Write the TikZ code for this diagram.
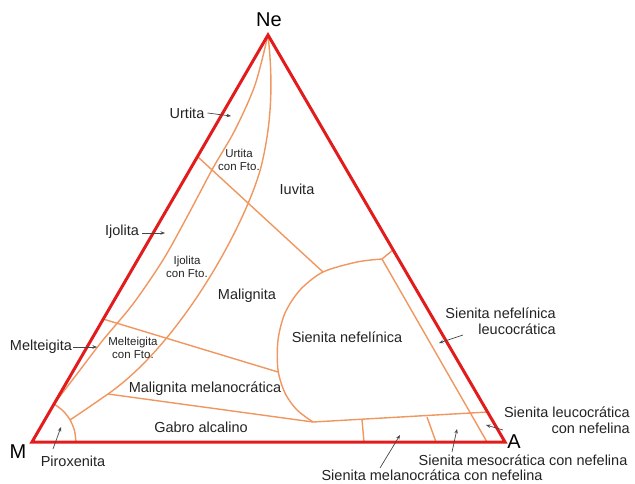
\documentclass[tikz,border=0pt]{standalone}
\usepackage{fontspec}
\setmainfont{Liberation Sans}
\usetikzlibrary{arrows.meta}
\definecolor{tri}{RGB}{226,28,28}
\definecolor{bnd}{RGB}{240,150,95}
\definecolor{txt}{RGB}{35,35,35}
\definecolor{arr}{RGB}{70,70,70}
\begin{document}
\begin{tikzpicture}[x=1pt,y=-1pt,
  triedge/.style={draw=tri,line width=3pt,line join=miter},
  bline/.style={draw=bnd,line width=1.4pt,line join=round},
  lbl/.style={text=txt,font=\fontsize{14.5}{16}\selectfont,inner sep=1pt},
  lbltwo/.style={text=txt,font=\fontsize{14.5}{15.5}\selectfont,inner sep=1pt,align=right},
  smalllbl/.style={text=txt,font=\fontsize{11.5}{12.5}\selectfont,align=center,inner sep=0pt},
  vtx/.style={text=black,font=\fontsize{20}{22}\selectfont,inner sep=0pt},
  ptr/.style={draw=arr,line width=0.7pt,-{Stealth[length=4.5pt,width=3.5pt]}}]
\useasboundingbox (0,0) rectangle (635,483);

% vertices
\coordinate (Ne) at (268,35);
\coordinate (M) at (32,442);
\coordinate (A) at (505,442);

% junctions
\coordinate (l1a) at (198,157);
\coordinate (l1b) at (323,272);
\coordinate (l2a) at (103,319);
\coordinate (l2b) at (278,372);
\coordinate (j3) at (108,394);
\coordinate (bB) at (262,163);
\coordinate (pirB) at (70,420);
\coordinate (sbot) at (313,422);
\coordinate (stop) at (382,259);
\coordinate (sedge) at (393,250);
\coordinate (leuB) at (487,442);
\coordinate (bR) at (488,412);
\coordinate (t1a) at (362,420);
\coordinate (t1b) at (364,442);
\coordinate (t2a) at (427,417);
\coordinate (t2b) at (436,442);

% boundaries
\draw[bline] plot[smooth] coordinates {(268,35) (255,85) (235,130) (213,168) (187,217) (163,260) (133,304) (103,340) (80,370) (54,404)};
\draw[bline] (Ne) .. controls (273,80) and (272,120) .. (bB)
  .. controls (250,215) and (185,340) .. (j3)
  .. controls (95,403) and (82,412) .. (pirB);
\draw[bline] plot[smooth] coordinates {(76,442) (74.5,430.6) (70.1,420) (63.1,410.9) (54,403.9)};
\draw[bline] (l1a) -- (l1b);
\draw[bline] (l2a) -- (l2b);
\draw[bline] (j3) -- (sbot);
\draw[bline] plot[smooth] coordinates {(382,259) (357,262) (323,272) (300,290) (285,313) (278,340) (278,370) (285,393) (297,410) (313,422)};
\draw[bline] (stop) -- (sedge);
\draw[bline] (stop) -- (leuB);
\draw[bline] (sbot) -- (bR);
\draw[bline] (t1a) -- (t1b);
\draw[bline] (t2a) -- (t2b);

% triangle
\draw[triedge] (Ne) -- (A) -- (M) -- cycle;

% vertex labels
\node[vtx] (ne) at (269,20) {Ne};
\node[vtx] (m) at (18,452) {M};
\node[vtx] (a) at (514,442) {A};

% field labels
\node[lbl] (urt) at (187,113) {Urtita};
\coordinate (urtP) at (231,116);
\draw[ptr] (urt.east) ++(2,0) -- (urtP);
\node[smalllbl] (urtf) at (239,160) {Urtita\\con Fto.};
\node[lbl] (iuv) at (297,189) {Iuvita};
\node[lbl] (ijo) at (122,232) {Ijolita};
\coordinate (ijoP) at (165,233);
\draw[ptr] (ijo.east) ++(2,1) -- (ijoP);
\node[smalllbl] (ijof) at (187,267) {Ijolita\\con Fto.};
\node[lbl] (mal) at (247,296) {Malignita};
\node[lbl] (mel) at (41,347) {Melteigita};
\coordinate (melP) at (97,347);
\draw[ptr] (mel.east) -- (melP);
\node[smalllbl] (melf) at (133,348) {Melteigita\\con Fto.};
\node[lbl] (malm) at (205,389) {Malignita melanocrática};
\node[lbl] (gab) at (201,427) {Gabro alcalino};
\node[lbl] (pir) at (73,461) {Piroxenita};
\coordinate (pirS) at (53,449);
\coordinate (pirP) at (61,427);
\draw[ptr] (pirS) -- (pirP);
\node[lbl] (sn) at (347,337) {Sienita nefelínica};
\node[lbltwo,anchor=east] (snl) at (557,321) {Sienita nefelínica\\leucocrática};
\coordinate (snlS) at (463,335);
\coordinate (snlP) at (439,343);
\draw[ptr] (snlS) -- (snlP);
\node[lbltwo,anchor=east] (slc) at (631,420) {Sienita leucocrática\\con nefelina};
\coordinate (slcS) at (503,430);
\coordinate (slcP) at (486,425);
\draw[ptr] (slcS) -- (slcP);
\node[lbl] (smc) at (523,460) {Sienita mesocrática con nefelina};
\coordinate (smcS) at (452,452);
\coordinate (smcP) at (457,429);
\draw[ptr] (smcS) -- (smcP);
\node[lbl] (smlc) at (432,475) {Sienita melanocrática con nefelina};
\coordinate (smlcS) at (380,468);
\coordinate (smlcP) at (400,435);
\draw[ptr] (smlcS) -- (smlcP);
\end{tikzpicture}
\end{document}
